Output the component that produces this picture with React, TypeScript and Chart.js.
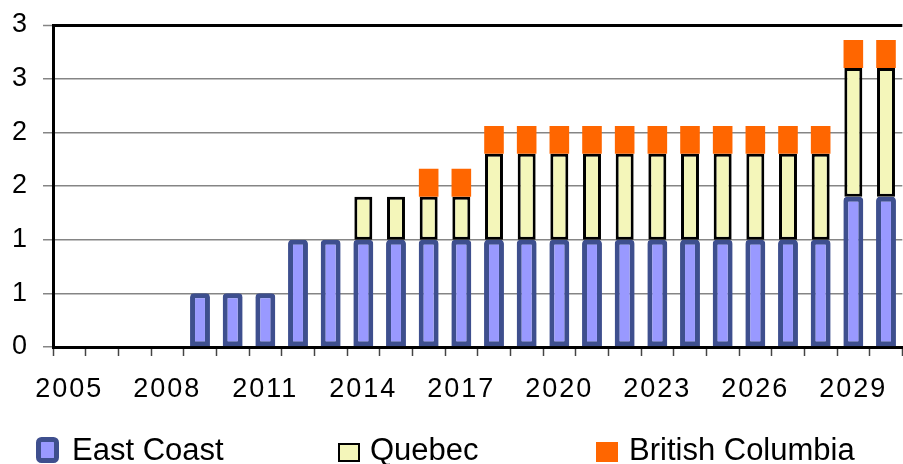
import React, { useEffect, useRef } from 'react';
import { Chart, registerables } from 'chart.js';

Chart.register(...registerables);

const years = [
  '2005', '2006', '2007', '2008', '2009', '2010', '2011', '2012', '2013',
  '2014', '2015', '2016', '2017', '2018', '2019', '2020', '2021', '2022',
  '2023', '2024', '2025', '2026', '2027', '2028', '2029', '2030',
];
const xTickLabels = ['2005', '2008', '2011', '2014', '2017', '2020', '2023', '2026', '2029'];
const yTickLabels = ['0', '1', '1', '2', '2', '3', '3'];
const seriesNames = ['East Coast', 'Quebec', 'British Columbia'];

const eastCoast = [
  0, 0, 0, 0, 0.5, 0.5, 0.5, 1, 1, 1, 1, 1, 1, 1, 1, 1, 1, 1, 1, 1, 1, 1, 1, 1, 1.4, 1.4,
];
const quebec = [
  0, 0, 0, 0, 0, 0, 0, 0, 0, 0.4, 0.4, 0.4, 0.4, 0.8, 0.8, 0.8, 0.8, 0.8, 0.8, 0.8, 0.8, 0.8, 0.8, 0.8, 1.2, 1.2,
];
const britishColumbia = [
  0, 0, 0, 0, 0, 0, 0, 0, 0, 0, 0, 0.26, 0.26, 0.26, 0.26, 0.26, 0.26, 0.26, 0.26, 0.26, 0.26, 0.26, 0.26, 0.26, 0.26, 0.26,
];

const FONT = '"Liberation Sans", Arial, Helvetica, sans-serif';
const EC_FILL = '#9999FF';
const EC_BORDER = '#3E4F8E';
const QC_FILL = '#F4F6BA';
const BC_FILL = '#FF6600';

const nz = (arr: number[]) => arr.map((v) => (v === 0 ? null : v));

const legendPlugin = {
  id: 'customLegendAndSpacing',
  beforeDraw(chart: any) {
    chart.ctx.letterSpacing = '0px';
  },
  afterDatasetsDraw(chart: any) {
    // tick labels are drawn after datasets (ticks.z = 1); widen them slightly
    chart.ctx.letterSpacing = '2px';
  },
  afterDraw(chart: any) {
    const ctx = chart.ctx as CanvasRenderingContext2D;
    ctx.letterSpacing = '0px';
    ctx.save();
    // East Coast box
    ctx.beginPath();
    (ctx as any).roundRect(38.5, 439.5, 18, 21, 3);
    ctx.fillStyle = EC_FILL;
    ctx.fill();
    ctx.lineWidth = 5;
    ctx.strokeStyle = EC_BORDER;
    ctx.stroke();
    // Quebec box
    ctx.beginPath();
    ctx.rect(339, 444, 20, 17);
    ctx.fillStyle = QC_FILL;
    ctx.fill();
    ctx.lineWidth = 2;
    ctx.strokeStyle = '#000';
    ctx.stroke();
    // British Columbia box
    ctx.fillStyle = BC_FILL;
    ctx.fillRect(596, 442, 22, 20);

    ctx.font = `31px ${FONT}`;
    ctx.fillStyle = '#000';
    ctx.textAlign = 'left';
    ctx.textBaseline = 'alphabetic';
    const textX = [72, 370, 629];
    seriesNames.forEach((name, i) => ctx.fillText(name, textX[i], 460));
    ctx.restore();
  },
};

export default function App() {
  const ref = useRef<HTMLCanvasElement>(null);
  useEffect(() => {
    const canvas = ref.current;
    if (!canvas) return;
    const chart = new Chart(canvas, {
      type: 'bar',
      data: {
        labels: years,
        datasets: [
          {
            label: seriesNames[0],
            data: nz(eastCoast),
            backgroundColor: EC_FILL,
            borderColor: EC_BORDER,
            borderWidth: 5,
            borderSkipped: false,
            borderRadius: { topLeft: 4, topRight: 4, bottomLeft: 0, bottomRight: 0 },
            barPercentage: 0.61,
            categoryPercentage: 1,
          },
          {
            label: seriesNames[1],
            data: nz(quebec),
            backgroundColor: QC_FILL,
            borderColor: '#000000',
            borderWidth: 3,
            borderSkipped: false,
            barPercentage: 0.55,
            categoryPercentage: 1,
          },
          {
            label: seriesNames[2],
            data: nz(britishColumbia),
            backgroundColor: BC_FILL,
            borderWidth: 0,
            barPercentage: 0.6,
            categoryPercentage: 1,
          },
        ],
      } as any,
      options: {
        animation: false,
        responsive: true,
        maintainAspectRatio: false,
        layout: { padding: { top: 25, right: -3, bottom: 0, left: 0 } },
        plugins: {
          legend: { display: false },
          tooltip: { enabled: false },
        },
        scales: {
          x: {
            stacked: true,
            offset: true,
            grid: {
              display: true,
              drawOnChartArea: false,
              drawTicks: true,
              tickLength: 9,
              tickColor: '#444',
              tickWidth: 1.5,
              offset: true,
            },
            border: { display: true, color: '#000', width: 3 },
            ticks: {
              autoSkip: false,
              maxRotation: 0,
              minRotation: 0,
              padding: 17,
              z: 1,
              color: '#000',
              font: { family: FONT, size: 27 },
              callback: (_v: any, i: number) => (xTickLabels.includes(years[i]) ? years[i] : ''),
            },
            afterFit: (s: any) => {
              s.height = 117;
            },
          },
          y: {
            stacked: true,
            min: 0,
            max: 3,
            grid: {
              color: (c: any) => (c.tick && c.tick.value === 3 ? '#000' : '#858585'),
              lineWidth: (c: any) => (c.tick && c.tick.value === 3 ? 3 : 1.5),
              tickColor: '#858585',
              tickWidth: 1.5,
              tickLength: 10,
            },
            border: { display: true, color: '#000', width: 3 },
            ticks: {
              stepSize: 0.5,
              padding: 14,
              z: 1,
              color: '#000',
              font: { family: FONT, size: 27, lineHeight: 0.6 },
              callback: (_v: any, i: number) => yTickLabels[i],
            },
            afterFit: (s: any) => {
              s.width = 53;
            },
          },
        },
      },
      plugins: [legendPlugin],
    });
    return () => chart.destroy();
  }, []);
  return (
    <div style={{ position: 'absolute', left: 0, top: 0, width: 903, height: 464 }}>
      <canvas ref={ref} />
    </div>
  );
}
